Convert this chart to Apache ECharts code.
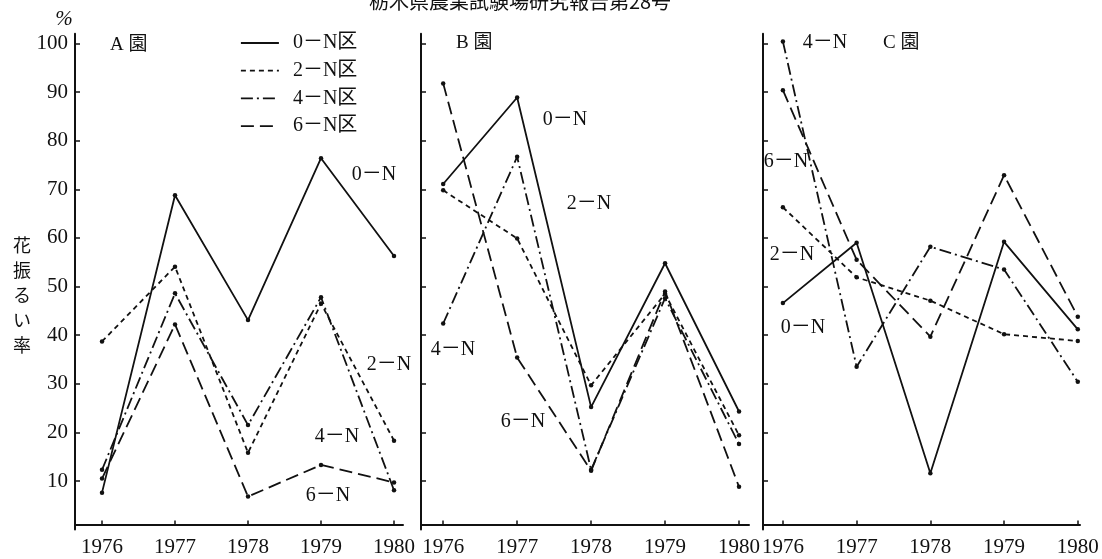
<!DOCTYPE html>
<html>
<head>
<meta charset="utf-8">
<script src="https://cdn.jsdelivr.net/npm/echarts@6/dist/echarts.min.js"></script>
<style>
html,body{margin:0;padding:0;background:#fff;}
#chart{width:1102px;height:559px;}
</style>
</head>
<body>
<div id="chart"></div>
<script>
// ---- data ----
const years = [1976, 1977, 1978, 1979, 1980];
const seriesNames = ['0－N区', '2－N区', '4－N区', '6－N区'];
const yTicks = [10, 20, 30, 40, 50, 60, 70, 80, 90, 100];
const panelNames = ['A 園', 'B 園', 'C 園'];

const A_0N = [7.6, 68.8, 43.1, 76.4, 56.3];
const A_2N = [38.7, 54.1, 15.8, 46.5, 18.3];
const A_4N = [12.3, 48.6, 21.5, 47.8, 8.1];
const A_6N = [10.5, 42.2, 6.8, 13.3, 9.7];

const B_0N = [71.1, 88.9, 25.2, 54.8, 24.3];
const B_2N = [69.8, 59.9, 29.7, 48.5, 19.4];
const B_4N = [42.4, 76.7, 12.3, 47.6, 17.6];
const B_6N = [91.8, 35.4, 12.1, 49.0, 8.8];

const C_0N = [46.6, 59.0, 11.6, 59.2, 41.2];
const C_2N = [66.3, 51.9, 47.1, 40.2, 38.8];
const C_4N = [100.4, 33.5, 58.2, 53.5, 30.4];
const C_6N = [90.4, 55.5, 39.7, 72.9, 43.8];

const panels = [
  [A_0N, A_2N, A_4N, A_6N],
  [B_0N, B_2N, B_4N, B_6N],
  [C_0N, C_2N, C_4N, C_6N]
];

// ---- styling ----
const INK = '#111111';
const FONT = "'Liberation Serif', 'Noto Sans CJK JP', serif";
const dashTypes = ['solid', [5, 4], [12, 4, 2, 4], [13, 6]];

const gridBoxes = [
  { left: 75, right: 699, xmin: 1975.63, xmax: 1980.123 },
  { left: 421, right: 353, xmin: 1975.70, xmax: 1980.135 },
  { left: 763, right: 22, xmin: 1975.73, xmax: 1980.03 }
];

const grids = gridBoxes.map(g => ({
  left: g.left, right: g.right, top: 33.8, bottom: 29.4,
  containLabel: false, outerBoundsMode: 'none'
}));

const xAxes = gridBoxes.map((g, i) => ({
  type: 'value', gridIndex: i, min: g.xmin, max: g.xmax,
  offset: -5,
  splitLine: { show: false },
  axisLine: { show: true, onZero: false, lineStyle: { color: INK, width: 2 } },
  axisTick: { show: true, inside: true, length: 4, customValues: years, lineStyle: { color: INK, width: 1.5 } },
  axisLabel: { show: true, customValues: years, margin: 12, color: INK, fontFamily: FONT, fontSize: 21,
    formatter: v => String(Math.round(v)) }
}));

const yAxes = gridBoxes.map((g, i) => ({
  type: 'value', gridIndex: i, min: 0, max: 102,
  splitLine: { show: false },
  axisLine: { show: true, onZero: false, lineStyle: { color: INK, width: 2 } },
  axisTick: { show: true, inside: true, length: 5, customValues: yTicks, lineStyle: { color: INK, width: 1.5 } },
  axisLabel: { show: i === 0, customValues: yTicks, margin: 7, color: INK, fontFamily: FONT, fontSize: 21 }
}));

const series = [];
panels.forEach((arrs, p) => {
  arrs.forEach((vals, s) => {
    series.push({
      type: 'line', name: seriesNames[s], xAxisIndex: p, yAxisIndex: p,
      data: years.map((y, k) => [y, vals[k]]),
      symbol: 'circle', symbolSize: 4.5, showSymbol: true,
      itemStyle: { color: INK },
      lineStyle: { color: INK, width: 1.8, type: dashTypes[s] },
      emphasis: { disabled: true },
      animation: false, z: 3
    });
  });
});

function txt(x, y, text, opts) {
  return {
    type: 'text', x: x, y: y,
    style: Object.assign({ text: text, fill: INK, font: '20px ' + FONT, textAlign: 'center', textVerticalAlign: 'middle' }, opts || {})
  };
}

const graphics = [
  txt(520, 1, '栃木県農業試験場研究報告第28号', { font: "20px 'Noto Sans CJK JP'" }),
  txt(64, 19, '%', { font: 'italic 21px ' + FONT }),
  txt(22, 295, '花\n振\nる\nい\n率', { font: "18px 'Noto Sans CJK JP'", lineHeight: 25 }),
  txt(110, 45, panelNames[0], { textAlign: 'left', font: '19px ' + FONT }),
  txt(456, 43, panelNames[1], { textAlign: 'left', font: '19px ' + FONT }),
  txt(883, 43, panelNames[2], { textAlign: 'left', font: '19px ' + FONT }),
  // panel A labels
  txt(374, 175, '0－N'), txt(389, 365, '2－N'), txt(337, 437, '4－N'), txt(328, 496, '6－N'),
  // panel B labels
  txt(565, 120, '0－N'), txt(589, 204, '2－N'), txt(453, 350, '4－N'), txt(523, 422, '6－N'),
  // panel C labels
  txt(825, 43, '4－N'), txt(786, 162, '6－N'), txt(792, 255, '2－N'), txt(803, 328, '0－N')
];

const chart = echarts.init(document.getElementById('chart'), null, { renderer: 'canvas' });
chart.setOption({
  backgroundColor: '#ffffff',
  animation: false,
  grid: grids,
  xAxis: xAxes,
  yAxis: yAxes,
  legend: {
    data: seriesNames,
    orient: 'vertical',
    left: 235, top: 28,
    itemWidth: 38, itemHeight: 14, itemGap: 7.7,
    selectedMode: false,
    itemStyle: { opacity: 0 },
    lineStyle: { width: 1.8 },
    textStyle: { color: INK, fontFamily: FONT, fontSize: 20, lineHeight: 14, padding: [0, 0, 0, 9] }
  },
  series: series,
  graphic: graphics
});
</script>
</body>
</html>
